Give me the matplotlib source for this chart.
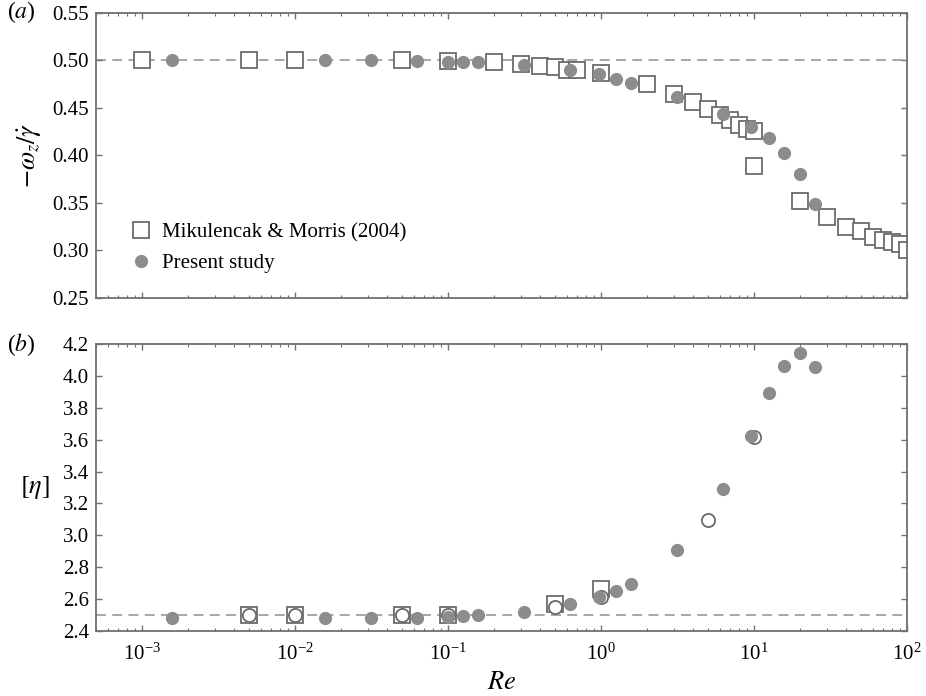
import matplotlib
matplotlib.use("Agg")
import matplotlib.pyplot as plt
from matplotlib.ticker import LogLocator, NullFormatter, NullLocator, LogFormatterMathtext

plt.rcParams['font.family'] = ['Liberation Serif', 'DejaVu Serif']
plt.rcParams['mathtext.fontset'] = 'stix'

# (a) rotation rate of the particle
mm_re_a = [1e-3, 5e-3, 1e-2, 5e-2, 0.1, 0.2, 0.3, 0.4, 0.5, 0.6, 0.7, 1.0, 2, 3, 4, 5, 6, 7, 8, 9, 10, 10, 20, 30, 40, 50, 60, 70, 80, 90, 100]
mm_rot = [0.500, 0.500, 0.500, 0.500, 0.499, 0.498, 0.496, 0.494, 0.493, 0.490, 0.490, 0.486, 0.475, 0.464, 0.456, 0.449, 0.442, 0.437, 0.432, 0.428, 0.425, 0.389, 0.352, 0.335, 0.324, 0.320, 0.314, 0.311, 0.309, 0.307, 0.300]

ps_re = [1.58e-3, 1.58e-2, 3.16e-2, 6.3e-2, 0.1, 0.126, 0.158, 0.316, 0.63, 0.97, 1.26, 1.58, 3.16, 6.3, 9.6, 12.6, 15.8, 20, 25]
ps_rot = [0.500, 0.500, 0.500, 0.499, 0.498, 0.498, 0.498, 0.495, 0.490, 0.485, 0.480, 0.476, 0.461, 0.443, 0.430, 0.418, 0.402, 0.380, 0.349]

# (b) intrinsic viscosity
mm_re_b = [5e-3, 1e-2, 5e-2, 0.1, 0.5, 1.0]
mm_eta = [2.50, 2.50, 2.50, 2.50, 2.567, 2.661]

open_re_b = [5e-3, 1e-2, 5e-2, 0.1, 0.5, 1.0, 5, 10]
open_eta = [2.50, 2.50, 2.50, 2.50, 2.549, 2.615, 3.096, 3.619]

ps_eta = [2.483, 2.483, 2.48, 2.48, 2.49, 2.495, 2.50, 2.52, 2.567, 2.611, 2.653, 2.695, 2.908, 3.291, 3.625, 3.89, 4.064, 4.142, 4.058]

a_ticks = [0.25, 0.30, 0.35, 0.40, 0.45, 0.50, 0.55]
b_ticks = [2.4, 2.6, 2.8, 3.0, 3.2, 3.4, 3.6, 3.8, 4.0, 4.2]

spine_c = '#707070'
sq_edge = '#6b6b6b'
dot_c = '#8c8c8c'
dash_c = '#a0a0a0'
fs = 15

fig = plt.figure(figsize=(9.26, 6.96), dpi=100)
ax1 = fig.add_axes([0.1037, 0.5723, 0.8755, 0.4095])
ax2 = fig.add_axes([0.1037, 0.0934, 0.8755, 0.4123])

for ax in (ax1, ax2):
    ax.set_xscale('log')
    ax.set_xlim(5e-4, 100)
    ax.xaxis.set_major_locator(LogLocator(base=10, numticks=10))
    ax.xaxis.set_minor_locator(LogLocator(base=10, subs=range(2, 10), numticks=20))
    ax.tick_params(which='both', direction='in', top=True, right=True, color=spine_c, labelsize=fs, pad=5)
    ax.tick_params(axis='x', which='major', pad=9)
    ax.tick_params(which='major', length=4.5, width=1.0)
    ax.tick_params(which='minor', length=2.5, width=0.8)
    ax.yaxis.set_minor_locator(NullLocator())
    for s in ax.spines.values():
        s.set_color(spine_c)
        s.set_linewidth(1.3)

# panel (a)
ax1.axhline(0.5, color=dash_c, lw=1.3, ls=(0, (5.5, 3.5)), zorder=1)
sq1, = ax1.plot(mm_re_a, mm_rot, ls='none', marker='s', ms=11, mfc='white', mec=sq_edge, mew=1.3, zorder=2)
dot1, = ax1.plot(ps_re, ps_rot, ls='none', marker='o', ms=9.5, mfc=dot_c, mec=dot_c, mew=0, zorder=3)
ax1.set_ylim(0.25, 0.55)
ax1.set_yticks(a_ticks)
ax1.set_yticklabels([f'{t:.2f}' for t in a_ticks])
ax1.xaxis.set_major_formatter(NullFormatter())
ax1.set_ylabel(r'$-\omega_z/\dot{\gamma}$', fontsize=19, labelpad=6)
leg = ax1.legend([sq1, dot1], ['Mikulencak & Morris (2004)', 'Present study'], loc='lower left',
                 frameon=False, fontsize=fs, handlelength=1.0, handletextpad=0.5,
                 labelspacing=0.55, borderaxespad=0.3, bbox_to_anchor=(0.025, 0.035))

# panel (b)
ax2.axhline(2.5, color=dash_c, lw=1.3, ls=(0, (5.5, 3.5)), zorder=1)
ax2.plot(mm_re_b, mm_eta, ls='none', marker='s', ms=11, mfc='white', mec=sq_edge, mew=1.3, zorder=2)
ax2.plot(open_re_b, open_eta, ls='none', marker='o', ms=9.5, mfc='white', mec=sq_edge, mew=1.3, zorder=3)
ax2.plot(ps_re, ps_eta, ls='none', marker='o', ms=9.5, mfc=dot_c, mec=dot_c, mew=0, zorder=4)
ax2.set_ylim(2.4, 4.2)
ax2.set_yticks(b_ticks)
ax2.set_yticklabels([f'{t:.1f}' for t in b_ticks])
ax2.xaxis.set_major_formatter(LogFormatterMathtext())
ax2.set_xlabel('$Re$', fontsize=19, labelpad=5)
ax2.set_ylabel(r'$[\eta]$', fontsize=19, rotation=0, labelpad=20, va='center')

fig.text(0.008, 0.982, r'($a$)', fontsize=17, va='center', ha='left')
fig.text(0.008, 0.505, r'($b$)', fontsize=17, va='center', ha='left')

fig.savefig('out.png', dpi=100)
